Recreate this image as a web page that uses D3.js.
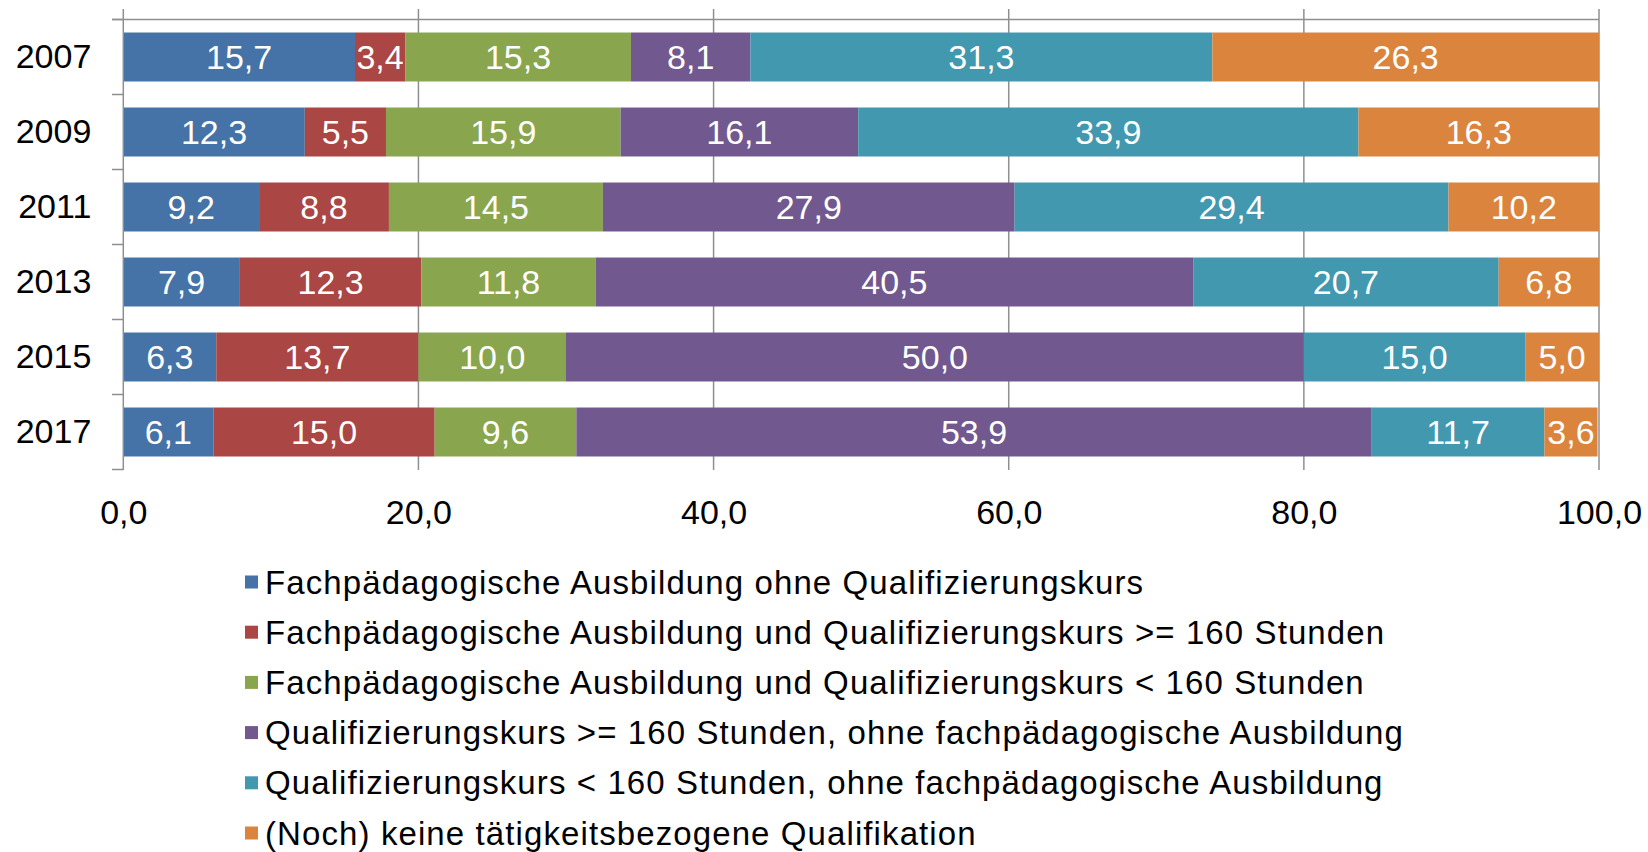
<!DOCTYPE html>
<html>
<head>
<meta charset="utf-8">
<script src="https://cdn.jsdelivr.net/npm/d3@7"></script>
<style>
  html, body { margin: 0; padding: 0; background: #fff; }
  svg { display: block; font-family: "Liberation Sans", Arial, sans-serif; }
</style>
</head>
<body>
<svg id="chart" width="1648" height="852"></svg>
<script>
const years = ["2007", "2009", "2011", "2013", "2015", "2017"];
const seriesNames = [
  "Fachpädagogische Ausbildung ohne Qualifizierungskurs",
  "Fachpädagogische Ausbildung und Qualifizierungskurs >= 160 Stunden",
  "Fachpädagogische Ausbildung und Qualifizierungskurs < 160 Stunden",
  "Qualifizierungskurs >= 160 Stunden, ohne fachpädagogische Ausbildung",
  "Qualifizierungskurs < 160 Stunden, ohne fachpädagogische Ausbildung",
  "(Noch) keine tätigkeitsbezogene Qualifikation"
];
const fachOhne      = [15.7, 12.3, 9.2, 7.9, 6.3, 6.1];
const fachKursGe160 = [3.4, 5.5, 8.8, 12.3, 13.7, 15.0];
const fachKursLt160 = [15.3, 15.9, 14.5, 11.8, 10.0, 9.6];
const kursGe160     = [8.1, 16.1, 27.9, 40.5, 50.0, 53.9];
const kursLt160     = [31.3, 33.9, 29.4, 20.7, 15.0, 11.7];
const keine         = [26.3, 16.3, 10.2, 6.8, 5.0, 3.6];
const xTicks = [0, 20, 40, 60, 80, 100];
const colors = ["#4572A7", "#AA4643", "#89A54E", "#71588F", "#4198AF", "#DB843D"];

const seriesValues = [fachOhne, fachKursGe160, fachKursLt160, kursGe160, kursLt160, keine];
const keys = seriesNames.map((_, i) => "s" + i);
const table = years.map((y, j) => {
  const row = { year: y };
  keys.forEach((k, i) => row[k] = seriesValues[i][j]);
  return row;
});

const svg = d3.select("#chart");
const pLeft = 123.3, pRight = 1599, pTop = 19.5, pBottom = 469.5;

const x = d3.scaleLinear().domain([0, 100]).range([pLeft, pRight]);
const y = d3.scaleBand().domain(years).range([pTop, pBottom]).paddingInner(0.347).paddingOuter(0.347 / 2);
const fmt = v => d3.format(".1f")(v).replace(".", ",");

// gridlines
svg.append("g").selectAll("line").data(xTicks.slice(1)).join("line")
  .attr("x1", d => x(d)).attr("x2", d => x(d))
  .attr("y1", 9).attr("y2", pBottom + 0.5)
  .attr("stroke", "#8f8f8f").attr("stroke-width", 1.5);

// top line
svg.append("line").attr("x1", 112).attr("x2", pRight).attr("y1", pTop).attr("y2", pTop)
  .attr("stroke", "#8f8f8f").attr("stroke-width", 1.5);

// stacked bars
const stacked = d3.stack().keys(keys)(table);
const groups = svg.append("g").selectAll("g").data(stacked).join("g")
  .attr("fill", (d, i) => colors[i]);
groups.selectAll("rect").data(d => d).join("rect")
  .attr("x", d => x(d[0]))
  .attr("width", d => x(Math.min(100, d[1])) - x(d[0]))
  .attr("y", d => y(d.data.year))
  .attr("height", y.bandwidth());

// data labels
const labels = svg.append("g").attr("fill", "#fff").attr("font-size", 34)
  .attr("text-anchor", "middle");
stacked.forEach((s, i) => {
  labels.selectAll(null).data(s).join("text")
    .attr("x", d => (x(d[0]) + x(Math.min(100, d[1]))) / 2)
    .attr("y", d => y(d.data.year) + y.bandwidth() / 2)
    .attr("dy", "0.36em")
    .text(d => fmt(d.data[s.key]));
});

// y axis
const yAxis = d3.axisLeft(y).tickSize(0).tickPadding(32);
const gy = svg.append("g").attr("transform", `translate(${pLeft},0)`).call(yAxis);
gy.select(".domain").remove();
gy.selectAll("text").attr("font-size", 34).attr("fill", "#000").attr("font-family", "'Liberation Sans', Arial, sans-serif");
svg.append("line").attr("x1", pLeft).attr("x2", pLeft).attr("y1", 9).attr("y2", pBottom + 0.5)
  .attr("stroke", "#8f8f8f").attr("stroke-width", 1.5);
// category ticks at band boundaries
const bounds = years.map(yr => y(yr) - y.step() * y.paddingInner() / 2).concat([pBottom]);
svg.append("g").selectAll("line").data(bounds).join("line")
  .attr("x1", 112).attr("x2", pLeft).attr("y1", d => d).attr("y2", d => d)
  .attr("stroke", "#8f8f8f").attr("stroke-width", 1.5);

// x axis labels
const xAxis = d3.axisBottom(x).tickValues(xTicks).tickSize(0).tickPadding(0).tickFormat(fmt);
const gx = svg.append("g").attr("transform", `translate(0,${pBottom})`).call(xAxis);
gx.select(".domain").remove();
gx.selectAll("text").attr("font-size", 34).attr("fill", "#000")
  .attr("font-family", "'Liberation Sans', Arial, sans-serif")
  .attr("dy", null).attr("y", 54);

// legend
const lg = svg.append("g");
const rows = lg.selectAll("g").data(seriesNames).join("g")
  .attr("transform", (d, i) => `translate(245,${582 + i * 50.2})`);
rows.append("rect").attr("x", 0).attr("y", -6.5).attr("width", 13).attr("height", 13)
  .attr("fill", (d, i) => colors[i]);
rows.append("text").attr("x", 20).attr("y", 0).attr("dy", "0.35em")
  .attr("font-size", 33).attr("letter-spacing", 1.1).attr("fill", "#000").text(d => d);
</script>
</body>
</html>
